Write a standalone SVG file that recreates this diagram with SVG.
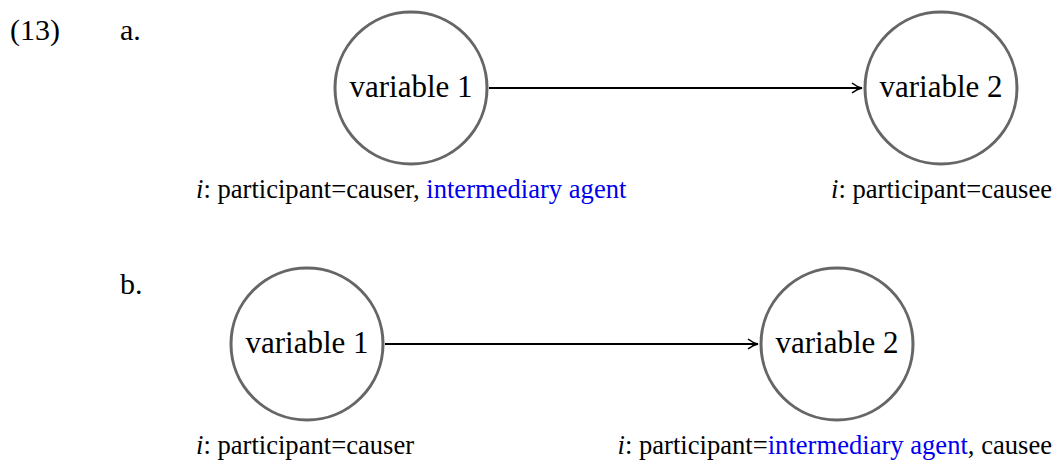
<svg xmlns="http://www.w3.org/2000/svg" width="1057" height="462" viewBox="0 0 1057 462" font-family="Liberation Serif, serif">
<style>
.t{font-family:Liberation Serif,serif}
.node{fill:#fff;stroke:#666;stroke-width:3}
.nl{font-size:31px;text-anchor:middle}
.lab{font-size:26.6px}
.num{font-size:30px}
.b{fill:#0000ee}
.it{font-style:italic}
.edge{stroke:#000;stroke-width:2;fill:none}
</style>
<defs>
<marker id="arr" viewBox="0 0 12 12" refX="11" refY="6" markerWidth="12" markerHeight="12" markerUnits="userSpaceOnUse" orient="auto">
<path d="M1,1 Q6,5 11,6 Q6,7 1,11" fill="none" stroke="#000" stroke-width="1.6"/>
</marker>
</defs>
<text class="t num" x="10" y="40">(13)</text>
<text class="t num" x="120" y="40">a.</text>
<text class="t num" x="120" y="294">b.</text>
<g id="connectors">
<line class="edge" x1="489" y1="88" x2="862" y2="88" marker-end="url(#arr)"/>
<line class="edge" x1="385" y1="344" x2="758" y2="344" marker-end="url(#arr)"/>
</g>
<g id="a1">
<circle class="node" cx="411" cy="88" r="76"/>
<text class="t nl" x="411" y="97">variable 1</text>
<text class="t lab" x="196" y="198"><tspan class="it">i</tspan>: participant=causer, <tspan class="b">intermediary agent</tspan></text>
</g>
<g id="a2">
<circle class="node" cx="941" cy="88" r="76"/>
<text class="t nl" x="941" y="97">variable 2</text>
<text class="t lab" x="1052" y="198" text-anchor="end"><tspan class="it">i</tspan>: participant=causee</text>
</g>
<g id="b1">
<circle class="node" cx="307" cy="344" r="76"/>
<text class="t nl" x="307" y="353">variable 1</text>
<text class="t lab" x="196" y="454"><tspan class="it">i</tspan>: participant=causer</text>
</g>
<g id="b2">
<circle class="node" cx="837" cy="344" r="76"/>
<text class="t nl" x="837" y="353">variable 2</text>
<text class="t lab" x="1052" y="454" text-anchor="end"><tspan class="it">i</tspan>: participant=<tspan class="b">intermediary agent</tspan>, causee</text>
</g>
</svg>
